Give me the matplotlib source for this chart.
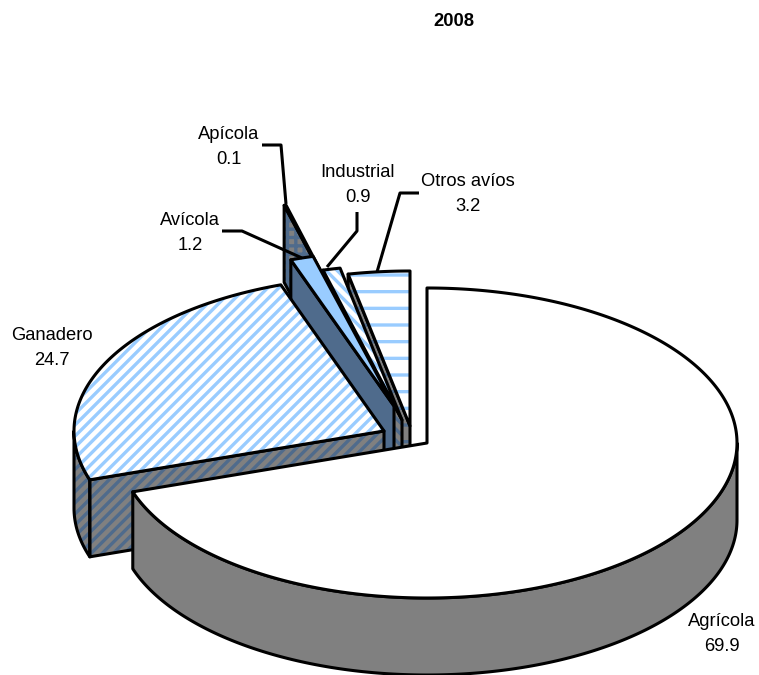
import numpy as np
import matplotlib
matplotlib.use('Agg')
import matplotlib.pyplot as plt
from matplotlib.patches import Polygon

plt.rcParams['font.family'] = ['Liberation Sans', 'DejaVu Sans']
plt.rcParams['hatch.linewidth'] = 2.4

labels = ['Agrícola', 'Ganadero', 'Avícola', 'Apícola', 'Industrial', 'Otros avíos']
values = [69.9, 24.7, 1.2, 0.1, 0.9, 3.2]

# pie geometry, in pixels of the picture
RX, RY, DEPTH = 310, 155, 77
centers = [(427, 443), (384, 431), (394, 406), (365, 355), (402, 420), (410, 426)]

GRAY = '#808080'
SLATE = '#4f6b8c'
BLUE = '#99ccff'
# top colour, top stripe colour, top hatch, wall colour, wall stripe colour
styles = [
    ('white', None, None, GRAY, None),
    ('white', BLUE, '///', GRAY, SLATE),
    (BLUE, None, None, SLATE, None),
    (GRAY, SLATE, '++', GRAY, SLATE),
    ('white', BLUE, '\\\\\\', GRAY, SLATE),
    ('white', BLUE, '-', GRAY, SLATE),
]
wall_hatches = [None, '///', None, '++', '\\\\\\', '-']

# label centre and leader line
label_pos = [(722, 634), (52, 348), (190, 233), (229, 147), (358, 185), (468, 194)]
leaders = [
    None,
    None,
    [(222, 231), (242, 231), (302, 258)],
    [(262, 145), (281, 145), (286, 204)],
    [(357, 212), (357, 231), (327, 267)],
    [(419, 193), (400, 193), (377, 272)],
]

fig = plt.figure(figsize=(7.59, 6.75), dpi=100)
ax = fig.add_axes([0, 0, 1, 1])
ax.set_xlim(0, 759)
ax.set_ylim(675, 0)
ax.axis('off')


def rim(c, a, b):
    t = np.radians(np.linspace(a, b, max(int(abs(b - a) * 2), 2)))
    return np.column_stack([c[0] + RX * np.sin(t), c[1] - RY * np.cos(t)])


def shape(pts, color, stripe, hatch, z):
    if stripe:
        ax.add_patch(Polygon(pts, facecolor=color, edgecolor=stripe, hatch=hatch, lw=0, zorder=z))
    else:
        ax.add_patch(Polygon(pts, facecolor=color, edgecolor='none', zorder=z))
    ax.add_patch(Polygon(pts, fill=False, edgecolor='black', lw=2.2, joinstyle='round', zorder=z + 0.1))


angles = np.concatenate([[0], np.cumsum(values)]) / sum(values) * 360
drop = np.array([0, DEPTH])

# back slices first, Agrícola last so it sits in front
for i in range(len(values) - 1, -1, -1):
    c = centers[i]
    a0, a1 = angles[i], angles[i + 1]
    top_c, top_s, top_h, wall_c, wall_s = styles[i]
    z = (len(values) - i) * 2

    # radial wall on the start side of the slice
    if a0 > 0:
        r = rim(c, a0, a0)[0]
        wall = [r, c, c + drop, r + drop]
        shape(wall, wall_c, wall_s, wall_hatches[i], z)

    # outer wall, only the front half of the rim shows
    v0, v1 = max(a0, 90), min(a1, 270)
    if v1 > v0:
        arc = rim(c, v0, v1)
        wall = np.vstack([arc, arc[::-1] + drop])
        shape(wall, wall_c, wall_s, wall_hatches[i], z)

    top = np.vstack([[c], rim(c, a0, a1)])
    shape(top, top_c, top_s, top_h, z + 1)

for line in leaders:
    if line:
        xs, ys = zip(*line)
        ax.plot(xs, ys, color='black', lw=2.2, zorder=30, solid_capstyle='butt')

for name, val, pos in zip(labels, values, label_pos):
    ax.text(pos[0], pos[1], f'{name}\n{val}', ha='center', va='center', fontsize=13.2,
            linespacing=1.6, color='black', zorder=31)

ax.text(454, 22, '2008', ha='center', va='center', fontsize=13.2, fontweight='bold')

fig.savefig('out.png', dpi=100, facecolor='white')
